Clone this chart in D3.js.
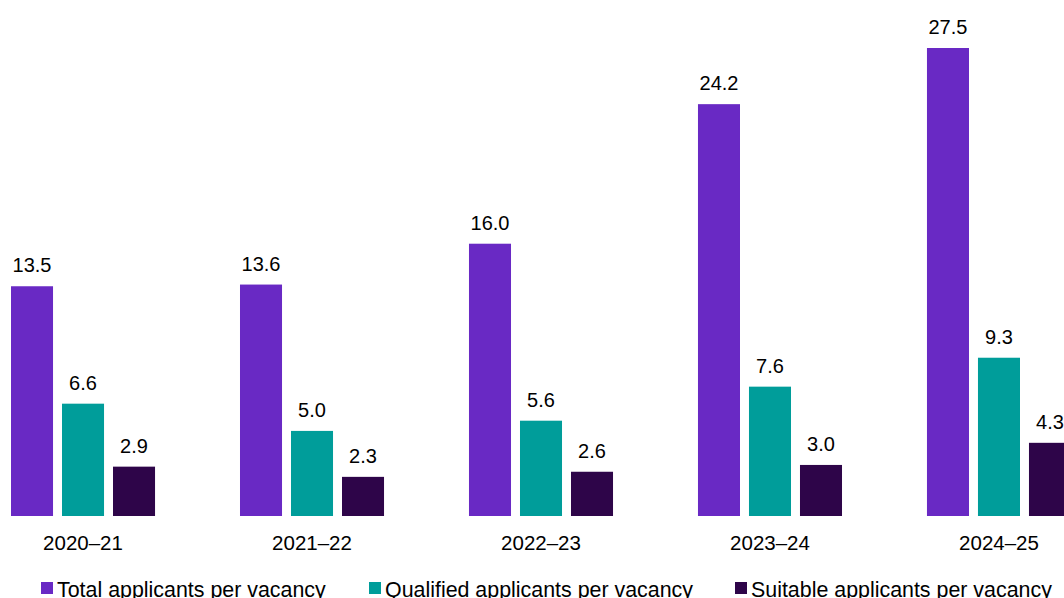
<!DOCTYPE html>
<html>
<head>
<meta charset="utf-8">
<script src="https://cdn.jsdelivr.net/npm/d3@7"></script>
<style>
  body { margin: 0; background: #fff; }
  text { font-family: "Liberation Sans", Arial, sans-serif; fill: #000; }
</style>
</head>
<body>
<svg width="1064" height="598"></svg>
<script>
const years = ["2020–21", "2021–22", "2022–23", "2023–24", "2024–25"];
const seriesNames = ["Total applicants per vacancy", "Qualified applicants per vacancy", "Suitable applicants per vacancy"];
const totalVals = [13.5, 13.6, 16.0, 24.2, 27.5];
const qualifiedVals = [6.6, 5.0, 5.6, 7.6, 9.3];
const suitableVals = [2.9, 2.3, 2.6, 3.0, 4.3];
const colors = ["#6929c4", "#009d9a", "#2e0549"];

const svg = d3.select("svg"),
    width = +svg.attr("width"),
    height = +svg.attr("height");

const baseY = 516;

const x0 = d3.scaleBand()
    .domain(years)
    .range([11, 1071])
    .paddingInner(0.371)
    .paddingOuter(0);

const x1 = d3.scaleBand()
    .domain(seriesNames)
    .range([0, x0.bandwidth()])
    .paddingInner(0.176)
    .paddingOuter(0);

const y = d3.scaleLinear()
    .domain([0, 27.5])
    .range([baseY, 48]);

const color = d3.scaleOrdinal().domain(seriesNames).range(colors);

const rows = years.map((yr, i) => ({
  year: yr,
  vals: [totalVals[i], qualifiedVals[i], suitableVals[i]].map((v, j) => ({key: seriesNames[j], value: v}))
}));

const group = svg.append("g")
  .selectAll("g")
  .data(rows)
  .enter().append("g")
    .attr("transform", d => `translate(${x0(d.year)},0)`);

group.selectAll("rect")
  .data(d => d.vals)
  .enter().append("rect")
    .attr("x", d => x1(d.key))
    .attr("y", d => y(d.value))
    .attr("width", x1.bandwidth())
    .attr("height", d => baseY - y(d.value))
    .attr("fill", d => color(d.key));

group.selectAll("text.val")
  .data(d => d.vals)
  .enter().append("text")
    .attr("class", "val")
    .attr("x", d => x1(d.key) + x1.bandwidth() / 2)
    .attr("y", d => y(d.value) - 14)
    .attr("text-anchor", "middle")
    .attr("font-size", "20px")
    .text(d => d.value.toFixed(1));

// category labels
group.append("text")
    .attr("x", x0.bandwidth() / 2)
    .attr("y", 550)
    .attr("text-anchor", "middle")
    .attr("font-size", "20.5px")
    .text(d => d.year);

// legend (cut off at the bottom edge, as in the original)
const legendX = [41, 369, 735];
const legend = svg.append("g")
  .selectAll("g")
  .data(seriesNames)
  .enter().append("g")
    .attr("transform", (d, i) => `translate(${legendX[i]},0)`);

legend.append("rect")
    .attr("x", 0)
    .attr("y", 582)
    .attr("width", 12)
    .attr("height", 12)
    .attr("fill", d => color(d));

legend.append("text")
    .attr("x", 16)
    .attr("y", 597)
    .attr("font-size", "21.4px")
    .text(d => d);
</script>
</body>
</html>
